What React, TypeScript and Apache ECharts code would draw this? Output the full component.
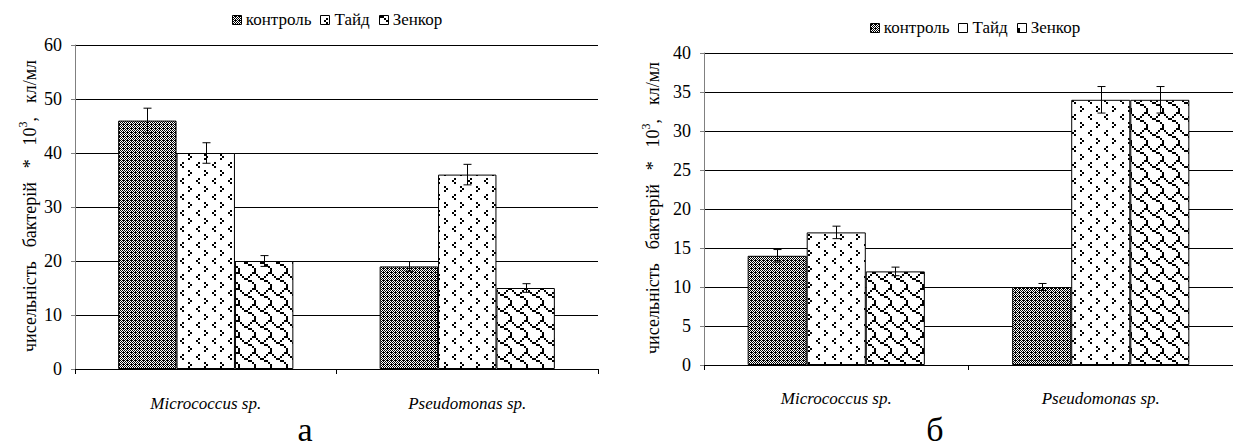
import React, { useEffect, useRef } from "react";
import * as echarts from "echarts";

// ---------- data ----------
const categories = ["Micrococcus sp.", "Pseudomonas sp."];
const seriesNames = ["контроль", "Тайд", "Зенкор"];

// chart "а"
const aControl = [46, 19];
const aTide = [40, 36];
const aZenkor = [20, 15];
const aControlErr = [2.3, 0.9];
const aTideErr = [1.9, 1.9];
const aZenkorErr = [1.0, 0.8];
const aYMax = 60;
const aYStep = 10;

// chart "б"
const bControl = [14, 10];
const bTide = [17, 34];
const bZenkor = [12, 34];
const bControlErr = [0.8, 0.45];
const bTideErr = [0.8, 1.7];
const bZenkorErr = [0.55, 1.7];
const bYMax = 40;
const bYStep = 5;

// y-axis title pieces: words, then "10" + superscript "3" + ",", then unit
const yTitleWords = ["чисельність", "бактерій", "*"];
const yTitleBase = "10";
const yTitleSup = "3";
const yTitleComma = ",";
const yTitleUnit = "кл/мл";
const captionA = "а";
const captionB = "б";

// ---------- patterns ----------
const CONTROL_BITS = [0xbb, 0x55, 0xaa, 0x55, 0xbb, 0x55, 0xaa, 0x55];
const DIVOT = [0x00, 0x10, 0x20, 0x10, 0x00, 0x02, 0x01, 0x02];
const SHINGLE = [0x03, 0x84, 0x48, 0x30, 0x0c, 0x02, 0x01, 0x01];

function makePattern(bits: number[], scale: number) {
  const c = document.createElement("canvas");
  c.width = 8 * scale;
  c.height = 8 * scale;
  const ctx = c.getContext("2d")!;
  ctx.fillStyle = "#fff";
  ctx.fillRect(0, 0, c.width, c.height);
  ctx.fillStyle = "#000";
  for (let r = 0; r < 8; r++)
    for (let b = 0; b < 8; b++)
      if (bits[r] & (0x80 >> b)) ctx.fillRect(b * scale, r * scale, scale, scale);
  return {
    image: c.toDataURL(),
    repeat: "repeat",
    imageWidth: c.width,
    imageHeight: c.height,
  } as any;
}

const FONT = "Liberation Serif";
const GAP = 0.33;

let measureCtx: CanvasRenderingContext2D | null = null;
function textW(t: string, size: number, italic = false) {
  if (!measureCtx) measureCtx = document.createElement("canvas").getContext("2d");
  measureCtx!.font = `${italic ? "italic " : ""}${size}px "${FONT}"`;
  return measureCtx!.measureText(t).width;
}

function legendGraphic(cx: number, cy: number, patterns: any[]) {
  const fs = 17;
  const icon = 9;
  const iconGap = 5;
  const itemGap = 9;
  const widths = seriesNames.map((n) => icon + iconGap + textW(n, fs));
  const total = widths.reduce((a, b) => a + b, 0) + itemGap * (seriesNames.length - 1);
  let x = cx - total / 2;
  const children: any[] = [];
  seriesNames.forEach((n, i) => {
    children.push({
      type: "rect",
      shape: { x: Math.round(x) + 0.5, y: Math.round(cy - icon / 2) + 0.5, width: icon, height: icon },
      style: { fill: patterns[i], stroke: "#000", lineWidth: 1 },
    });
    children.push({
      type: "text",
      x: x + icon + iconGap,
      y: cy,
      style: { text: n, fontFamily: FONT, fontSize: fs, fill: "#000", textAlign: "left", textVerticalAlign: "middle" },
    });
    x += widths[i] + itemGap;
  });
  return { type: "group", children };
}

function titleGraphic(cx: number, cy: number, length: number) {
  const fs = 18;
  const supFs = 12;
  const ws = yTitleWords.map((w) => textW(w, fs));
  const baseW = textW(yTitleBase, fs);
  const supW = textW(yTitleSup, supFs);
  const commaW = textW(yTitleComma, fs);
  const unitW = textW(yTitleUnit, fs);
  const pieces = ws.length + 2; // words, "10³,", unit
  const sum = ws.reduce((a, b) => a + b, 0) + baseW + supW + commaW + unitW;
  const g = Math.max(4, (length - sum) / (pieces - 1));
  const total = sum + g * (pieces - 1);
  let x = -total / 2;
  const children: any[] = [];
  const st = (t: string, size: number) => ({
    text: t,
    fontFamily: FONT,
    fontSize: size,
    fill: "#000",
    textAlign: "left",
    textVerticalAlign: "middle",
  });
  yTitleWords.forEach((w, i) => {
    children.push({ type: "text", x, y: 0, style: st(w, fs) });
    x += ws[i] + g;
  });
  children.push({ type: "text", x, y: 0, style: st(yTitleBase, fs) });
  x += baseW;
  children.push({ type: "text", x, y: -7, style: st(yTitleSup, supFs) });
  x += supW;
  children.push({ type: "text", x, y: 0, style: st(yTitleComma, fs) });
  x += commaW + g;
  children.push({ type: "text", x, y: 0, style: st(yTitleUnit, fs) });
  return { type: "group", x: cx, y: cy, rotation: Math.PI / 2, children };
}

function buildOption(
  vals: number[][],
  errs: number[][],
  yMax: number,
  yStep: number,
  grid: { left: number; right: number; top: number; bottom: number },
  legendCx: number,
  legendCy: number,
  titleX: number,
  titleY: number,
  caption: string,
  captionX: number,
  labelMargin: number
) {
  const patterns = [makePattern(CONTROL_BITS, 1), makePattern(DIVOT, 2), makePattern(SHINGLE, 2)];
  const barSeries = seriesNames.map((name, i) => ({
    name,
    type: "bar",
    data: vals[i],
    barGap: "0%",
    barCategoryGap: "33%",
    itemStyle: { color: patterns[i], borderColor: "#000", borderWidth: 1 },
  }));
  const errData: number[][] = [];
  for (let s = 0; s < 3; s++)
    for (let c = 0; c < categories.length; c++) errData.push([c, s, vals[s][c], errs[s][c]]);
  const errSeries = {
    type: "custom",
    z: 10,
    encode: { x: 0, y: 2 },
    data: errData,
    renderItem: (params: any, api: any) => {
      const cat = api.value(0);
      const idx = api.value(1);
      const v = api.value(2);
      const e = api.value(3);
      const band = api.size([1, 0])[0];
      const barW = (band * (1 - GAP)) / 3;
      const c = api.coord([cat, v]);
      const cx = Math.round(c[0] + (idx - 1) * barW) + 0.5;
      const yT = api.coord([cat, v + e])[1];
      const yB = api.coord([cat, v - e])[1];
      const hw = 4;
      const st = { stroke: "#000", lineWidth: 1 };
      return {
        type: "group",
        children: [
          { type: "line", shape: { x1: cx, y1: yT, x2: cx, y2: yB }, style: st },
          { type: "line", shape: { x1: cx - hw, y1: yT, x2: cx + hw, y2: yT }, style: st },
          { type: "line", shape: { x1: cx - hw, y1: yB, x2: cx + hw, y2: yB }, style: st },
        ],
      };
    },
  };
  return {
    animation: false,
    backgroundColor: "#fff",
    textStyle: { fontFamily: FONT },
    grid: { ...grid, containLabel: false },
    xAxis: {
      type: "category",
      data: categories,
      axisLine: { show: true, lineStyle: { color: "#000", width: 1 } },
      axisTick: { show: true, length: 5, lineStyle: { color: "#000" } },
      axisLabel: {
        fontFamily: FONT,
        fontSize: 17,
        fontStyle: "italic",
        color: "#000",
        margin: labelMargin,
      },
      splitLine: { show: false },
    },
    yAxis: {
      type: "value",
      min: 0,
      max: yMax,
      interval: yStep,
      axisLine: { show: true, lineStyle: { color: "#808080", width: 1 } },
      axisTick: { show: true, length: 4, lineStyle: { color: "#808080" } },
      axisLabel: { fontFamily: FONT, fontSize: 18, color: "#000", margin: 13 },
      splitLine: { show: true, lineStyle: { color: "#000", width: 1 } },
    },
    series: [...barSeries, errSeries],
    graphic: [
      legendGraphic(legendCx, legendCy, patterns),
      titleGraphic(titleX, titleY, 292),
      {
        type: "text",
        x: captionX,
        y: 446,
        style: {
          text: caption,
          fontFamily: FONT,
          fontSize: 34,
          fill: "#000",
          textAlign: "center",
          textVerticalAlign: "bottom",
        },
      },
    ],
  };
}

function Chart(props: { width: number; left: number; build: () => any }) {
  const ref = useRef<HTMLDivElement>(null);
  useEffect(() => {
    const chart = echarts.init(ref.current!, undefined, { renderer: "svg" });
    chart.setOption(props.build());
    return () => chart.dispose();
  }, []);
  return (
    <div
      ref={ref}
      style={{ position: "absolute", left: props.left, top: 0, width: props.width, height: 447, overflow: "hidden" }}
    />
  );
}

export default function App() {
  const buildA = () =>
    buildOption(
      [aControl, aTide, aZenkor],
      [aControlErr, aTideErr, aZenkorErr],
      aYMax,
      aYStep,
      { left: 75, right: 22, top: 45, bottom: 78 },
      337,
      19,
      30,
      206,
      captionA,
      305,
      26
    );
  const buildB = () =>
    buildOption(
      [bControl, bTide, bZenkor],
      [bControlErr, bTideErr, bZenkorErr],
      bYMax,
      bYStep,
      { left: 84, right: -13, top: 53, bottom: 82 },
      355,
      27,
      33,
      208,
      captionB,
      315,
      25
    );
  return (
    <div style={{ position: "absolute", left: 0, top: 0, width: 1233, height: 447, overflow: "hidden", background: "#fff" }}>
      <style>{`#root svg text, #root svg tspan { font-family: "Liberation Serif", serif !important; }`}</style>
      <Chart width={620} left={0} build={buildA} />
      <Chart width={613} left={620} build={buildB} />
    </div>
  );
}
